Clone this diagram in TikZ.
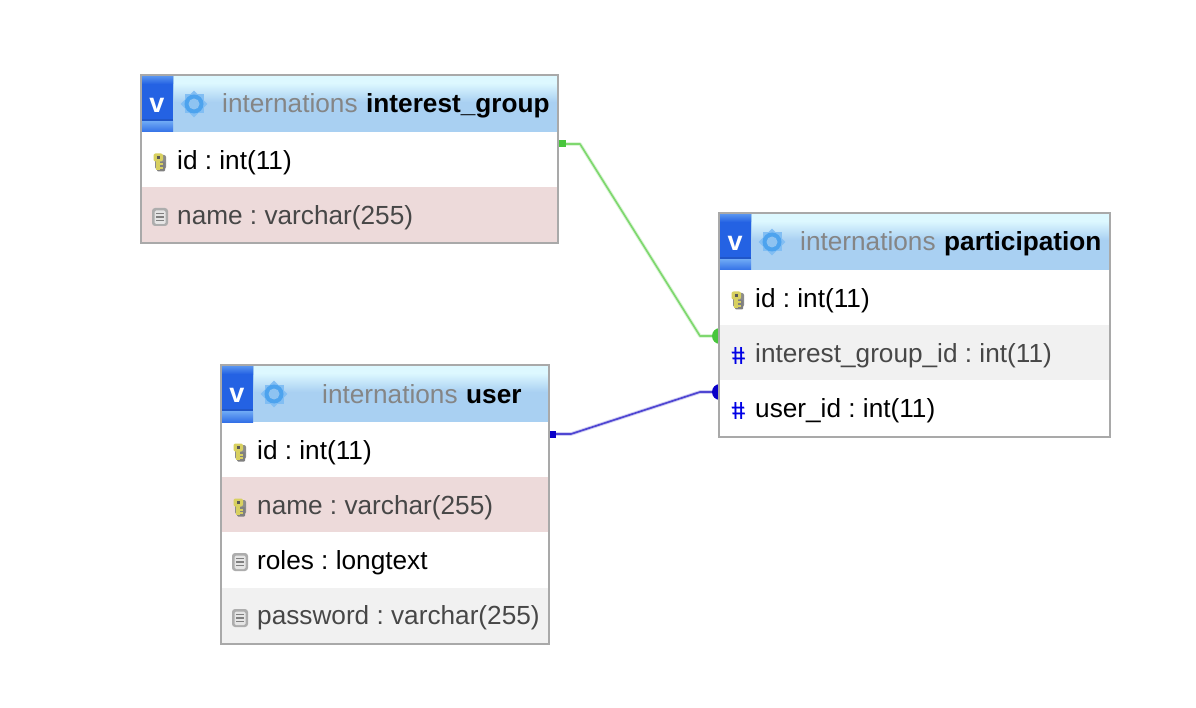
\documentclass[tikz,border=0pt]{standalone}
\usepackage{fontspec}
\setmainfont{Liberation Sans}
\frenchspacing
\usetikzlibrary{calc}
\definecolor{frame}{HTML}{A9A9A9}
\definecolor{hdr}{HTML}{A9D0F2}
\definecolor{hdrtop}{HTML}{DDF8FF}
\definecolor{btn}{HTML}{2462E3}
\definecolor{btnlt}{HTML}{6FAAF5}
\definecolor{pinkrow}{HTML}{EDDADA}
\definecolor{greyrow}{HTML}{F1F1F1}
\definecolor{gearblue}{HTML}{4DA3EE}
\definecolor{keyyellow}{HTML}{D8D060}
\definecolor{lnkgreen}{HTML}{7FD86F}
\definecolor{dotgreen}{HTML}{48C63C}
\definecolor{lnkblue}{HTML}{4F46D2}
\definecolor{dotblue}{HTML}{0A00C8}
\tikzset{
  x=1pt,y=-1pt,
  tableframe/.style={draw=frame,line width=2pt,fill=white,inner sep=0pt,outer sep=0pt,anchor=north west},
  rowlabel/.style={anchor=west,inner sep=0pt,font=\fontsize{26.2}{26.2}\selectfont,text=black},
  dimlabel/.style={rowlabel,text=black!72},
  titlelabel/.style={anchor=base west,inner sep=0pt,font=\fontsize{26.2}{26.2}\selectfont},
  boldtitle/.style={titlelabel,font=\fontsize{26.2}{26.2}\selectfont\bfseries},
  dblabel/.style={titlelabel,text=black!48},
  hashmark/.style={anchor=center,inner sep=0pt,font=\fontsize{25}{25}\selectfont\bfseries,text=blue!90!black,xslant=-0.22,transform shape},
  btnlabel/.style={anchor=center,inner sep=0pt,text=white,font=\fontsize{27}{27}\selectfont\bfseries},
  wire/.style={line width=1.7pt,line join=round},
  halo/.style={line width=3.6pt,line join=round,opacity=.25},
}
% key icon at (#1,#2)
\newcommand{\keyicon}[2]{%
  \begin{scope}[shift={(#1,#2)}]
    \fill[black!45,rounded corners=2pt] (-4,-7) rectangle (7,7);
    \fill[black!50,rounded corners=1pt] (-2,0) rectangle (6,9.5);
    \fill[keyyellow,rounded corners=2pt] (-5.5,-8.5) rectangle (4,-0.5);
    \fill[black!65] (-2.5,-6) rectangle (0.5,-3);
    \fill[keyyellow] (-3,-1) rectangle (0.5,8);
    \fill[keyyellow] (0.5,1.5) rectangle (4,3.5);
    \fill[keyyellow] (0.5,5) rectangle (4,7);
  \end{scope}}
% column icon at (#1,#2)
\newcommand{\fileicon}[2]{%
  \begin{scope}[shift={(#1,#2)}]
    \fill[black!32,rounded corners=3pt] (-8,-9) rectangle (8,9);
    \fill[white!90!black,rounded corners=1.5pt] (-5.5,-6.5) rectangle (5.5,7);
    \draw[black!50,line width=1.3pt] (-4,-3.5) -- (4,-3.5) (-4,0) -- (4,0) (-4,3.5) -- (4,3.5);
  \end{scope}}
% gear icon at (#1,#2)
\newcommand{\gearicon}[2]{%
  \begin{scope}[shift={(#1,#2)}]
    \foreach \a in {0,45}{\fill[gearblue!70,rotate=\a] (-9.5,-9.5) rectangle (9.5,9.5);}
    \fill[gearblue] (0,0) circle (9.5);
    \fill[hdr!70!gearblue] (0,0) circle (5.5);
  \end{scope}}
% header of a table: #1 x1, #2 y1, #3 x2
\newcommand{\tablehead}[3]{%
  \fill[hdr] (#1+1,#2+1) rectangle (#3-1,#2+57);
  \shade[top color=hdrtop,bottom color=hdr] (#1+33,#2+8) rectangle (#3-1,#2+27);
  \fill[hdrtop] (#1+33,#2+1) rectangle (#3-1,#2+8);
  \fill[btn] (#1+1,#2+1) rectangle (#1+32,#2+57);
  \shade[top color=btnlt!70!btn,bottom color=btn] (#1+1,#2+1) rectangle (#1+32,#2+9);
  \shade[top color=btnlt,bottom color=btn!80!btnlt] (#1+1,#2+46) rectangle (#1+32,#2+57);
  \fill[btn!88!black] (#1+1,#2+44) rectangle (#1+32,#2+46);
  \gearicon{#1+53}{#2+29}
}
\begin{document}
\begin{tikzpicture}
\useasboundingbox (0,0) rectangle (1196,708);
\fill[white] (0,0) rectangle (1196,708);

% table frames (named; connectors run to them)
\node[tableframe,minimum width=417pt,minimum height=168pt] (ig) at (141,75) {};
\node[tableframe,minimum width=391pt,minimum height=224pt] (part) at (719,213) {};
\node[tableframe,minimum width=328pt,minimum height=279pt] (usr) at (221,365) {};

% connectors, under the table bodies
\coordinate (igout) at ($(ig.north east)+(0,69)$);
\coordinate (pin1) at ($(part.north west)+(0,123)$);
\coordinate (usrout) at ($(usr.north east)+(0,69)$);
\coordinate (pin2) at ($(part.north west)+(0,179)$);
\draw[halo,lnkgreen] (igout) -- ++(22,0) -- ($(pin1)+(-19,0)$) -- (pin1);
\draw[halo,lnkblue] (usrout) -- ++(22,0) -- ($(pin2)+(-19,0)$) -- (pin2);
\draw[wire,lnkgreen] (igout) -- ++(22,0) -- ($(pin1)+(-19,0)$) -- (pin1);
\draw[wire,lnkblue] (usrout) -- ++(22,0) -- ($(pin2)+(-19,0)$) -- (pin2);
\fill[dotgreen] ($(pin1)+(1,0)$) circle (8);
\fill[dotblue] ($(pin2)+(1,0)$) circle (8);
\fill[dotgreen] ($(igout)+(0,-3.5)$) rectangle ($(igout)+(8,3.5)$);
\fill[dotblue] ($(usrout)+(0,-3.5)$) rectangle ($(usrout)+(7,3.5)$);

% ---------- interest_group
\fill[white] (142,76) rectangle (557,242);
\fill[pinkrow] (142,187) rectangle (557,242);
\tablehead{141}{75}{558}
\draw[frame,line width=2pt] (ig.north west) rectangle (ig.south east);
\node[btnlabel] (igv) at (157,105) {v};
\node[dblabel] (igdb) at (222,113) {internations};
\node[boldtitle] (igt) at (366,113) {interest\_group};
\keyicon{159}{162}
\node[rowlabel] (igid) at (177,162.5) {id : int(11)};
\fileicon{160}{217}
\node[dimlabel] (igname) at (177,217.5) {name : varchar(255)};

% ---------- participation
\fill[white] (720,214) rectangle (1109,436);
\fill[greyrow] (720,325) rectangle (1109,380);
\tablehead{719}{213}{1110}
\draw[frame,line width=2pt] (part.north west) rectangle (part.south east);
\node[btnlabel] (pv) at (735,243) {v};
\node[dblabel] (pdb) at (800,251) {internations};
\node[boldtitle] (pt) at (944,251) {participation};
\keyicon{737}{300}
\node[rowlabel] (pid) at (755,300.5) {id : int(11)};
\node[hashmark] (ph1) at (738.5,356) {\#};
\node[dimlabel] (pig) at (755,355.5) {interest\_group\_id : int(11)};
\node[hashmark] (ph2) at (738.5,411) {\#};
\node[rowlabel] (puid) at (755,410.5) {user\_id : int(11)};

% ---------- user
\fill[white] (222,366) rectangle (548,643);
\fill[pinkrow] (222,477) rectangle (548,532);
\fill[greyrow] (222,588) rectangle (548,643);
\tablehead{221}{365}{549}
\draw[frame,line width=2pt] (usr.north west) rectangle (usr.south east);
\node[btnlabel] (uv) at (237,395) {v};
\node[dblabel] (udb) at (322,403) {internations};
\node[boldtitle] (ut) at (466,403) {user};
\keyicon{239}{452}
\node[rowlabel] (uid) at (257,452.5) {id : int(11)};
\keyicon{239}{507}
\node[dimlabel] (uname) at (257,507.5) {name : varchar(255)};
\fileicon{240}{562}
\node[rowlabel] (uroles) at (257,562.5) {roles : longtext};
\fileicon{240}{618}
\node[dimlabel] (upass) at (257,617.5) {password : varchar(255)};
\end{tikzpicture}
\end{document}
